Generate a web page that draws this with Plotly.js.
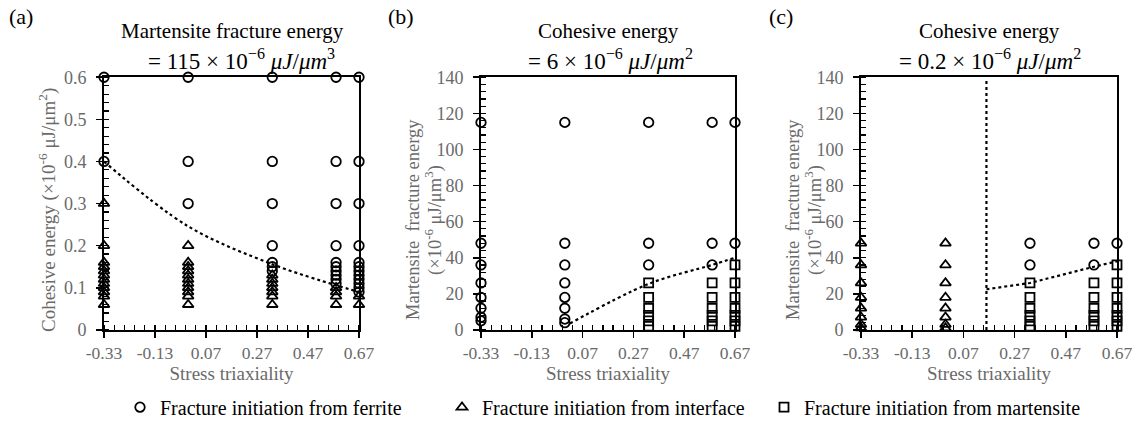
<!DOCTYPE html>
<html>
<head>
<meta charset="utf-8">
<script src="https://cdn.plot.ly/plotly-3.0.1.min.js"></script>
<style>html,body{margin:0;padding:0;background:#fff;}#chart{width:1141px;height:427px;}</style>
</head>
<body>
<div id="chart"></div>
<script>
// ---- data ----
const triaxiality = [-0.33, 0, 0.33, 0.58, 0.67];
const xTickVals = [-0.33, -0.13, 0.07, 0.27, 0.47, 0.67];
const xTickText = ["-0.33", "-0.13", "0.07", "0.27", "0.47", "0.67"];

// Panel (a): cohesive energy (x10^-6 uJ/um^2), per triaxiality column
const aFerrite = [
  [0.6, 0.4],
  [0.6, 0.4, 0.3],
  [0.6, 0.4, 0.3, 0.2, 0.16, 0.15, 0.14],
  [0.6, 0.4, 0.3, 0.2, 0.16, 0.15, 0.14, 0.13, 0.12, 0.11],
  [0.6, 0.4, 0.3, 0.2, 0.16, 0.15, 0.14, 0.13, 0.12, 0.11, 0.1, 0.09]
];
const aInterface = [
  [0.3, 0.2, 0.16, 0.15, 0.14, 0.13, 0.12, 0.11, 0.1, 0.09, 0.08, 0.06],
  [0.2, 0.16, 0.15, 0.14, 0.13, 0.12, 0.11, 0.1, 0.09, 0.08, 0.06],
  [0.13, 0.12, 0.11, 0.1, 0.09, 0.08, 0.06],
  [0.1, 0.09, 0.08, 0.06],
  [0.08, 0.06]
];
const aBoundaryX = [-0.33, 0, 0.33, 0.58, 0.67];
const aBoundaryY = [0.4, 0.246, 0.156, 0.106, 0.09];

// Panel (b): martensite fracture energy (x10^-6 uJ/um^3)
const bFerrite = [
  [115, 48, 36, 26, 18, 12, 7, 5],
  [115, 48, 36, 26, 18, 12, 6, 4],
  [115, 48, 36],
  [115, 48, 36],
  [115, 48]
];
const bMartensite = [
  [],
  [],
  [26, 18, 12, 8, 5, 2],
  [26, 18, 12, 8, 5, 2],
  [36, 26, 18, 12, 8, 5, 2]
];
const bBoundaryX = [0.02, 0.33, 0.58, 0.67];
const bBoundaryY = [3.5, 25.5, 36, 40];

// Panel (c)
const cFerrite = [[], [], [48, 36], [48, 36], [48]];
const cInterface = [
  [48, 36, 26, 18, 12, 7, 3, 1],
  [48, 36, 26, 18, 12, 7, 3, 1],
  [], [], []
];
const cMartensite = [
  [],
  [],
  [26, 18, 12, 8, 5, 2],
  [26, 18, 12, 8, 5, 2],
  [36, 26, 18, 12, 8, 5, 2]
];
const cLimitX = [0.16, 0.16];
const cLimitY = [0, 138];
const cBoundaryX = [0.16, 0.33, 0.58, 0.67];
const cBoundaryY = [22.5, 26, 35, 38];

const legendNames = [
  "Fracture initiation from ferrite",
  "Fracture initiation from interface",
  "Fracture initiation from martensite"
];

// ---- build ----
const FONT = "Liberation Serif, Times New Roman, serif";
const GREY = "#6a6a6a";

function flatten(cols) {
  const x = [], y = [];
  cols.forEach((vals, i) => vals.forEach(v => { x.push(triaxiality[i]); y.push(v); }));
  return {x, y};
}
const symbols = ["circle-open", "triangle-up-open", "square-open"];
const sizes = [9.5, 9.5, 9];
const shown = [false, false, false];
function markerTrace(cols, kind, xa, ya) {
  const d = flatten(cols);
  const show = !shown[kind];
  shown[kind] = true;
  return {
    type: "scatter", mode: "markers", x: d.x, y: d.y, xaxis: xa, yaxis: ya,
    name: legendNames[kind], legendgroup: "g" + kind, showlegend: show,
    cliponaxis: false, hoverinfo: "x+y",
    marker: {symbol: symbols[kind], size: sizes[kind], color: "#000", line: {color: "#000", width: 1.8}}
  };
}
function lineTrace(x, y, xa, ya, shape) {
  return {
    type: "scatter", mode: "lines", x: x, y: y, xaxis: xa, yaxis: ya, showlegend: false,
    cliponaxis: false, hoverinfo: "skip",
    line: {color: "#000", width: 2.2, dash: "dot", shape: shape || "linear", smoothing: 1}
  };
}

const traces = [
  markerTrace(aFerrite, 0, "x", "y"),
  markerTrace(aInterface, 1, "x", "y"),
  lineTrace(aBoundaryX, aBoundaryY, "x", "y", "spline"),
  markerTrace(bFerrite, 0, "x2", "y2"),
  markerTrace(bMartensite, 2, "x2", "y2"),
  lineTrace(bBoundaryX, bBoundaryY, "x2", "y2", "spline"),
  markerTrace(cFerrite, 0, "x3", "y3"),
  markerTrace(cInterface, 1, "x3", "y3"),
  markerTrace(cMartensite, 2, "x3", "y3"),
  lineTrace(cLimitX, cLimitY, "x3", "y3"),
  lineTrace(cBoundaryX, cBoundaryY, "x3", "y3")
];

const W = 1141, H = 427;
const yDom = [(H - 333) / H, (H - 78) / H];
function xAxis(x0, x1, anchor) {
  return {
    domain: [x0 / W, x1 / W], anchor: anchor, range: [-0.33, 0.67],
    tickmode: "array", tickvals: xTickVals, ticktext: xTickText,
    ticks: "outside", ticklen: 6, tickwidth: 1.6, tickcolor: "#000",
    minor: {ticks: "inside", ticklen: 5, tickwidth: 1.2, tickcolor: "#000", dtick: 0.04, tick0: -0.33, showgrid: false},
    showline: true, linecolor: "#000", linewidth: 1.8, mirror: true,
    showgrid: false, zeroline: false,
    tickfont: {family: FONT, size: 17.5, color: GREY},
    title: {text: "Stress triaxiality", font: {family: FONT, size: 19, color: GREY}, standoff: 2}
  };
}
function yAxis(range, dtick, mdtick, anchor) {
  return {
    domain: yDom, anchor: anchor, range: range, dtick: dtick, tick0: 0,
    ticks: "outside", ticklen: 6, tickwidth: 1.6, tickcolor: "#000",
    minor: {ticks: "inside", ticklen: 5, tickwidth: 1.2, tickcolor: "#000", dtick: mdtick, tick0: 0, showgrid: false},
    showline: true, linecolor: "#000", linewidth: 1.8, mirror: true,
    showgrid: false, zeroline: false, ticklabelstandoff: 6,
    tickfont: {family: FONT, size: 18, color: GREY}
  };
}

function ann(text, x, y, size, extra) {
  return Object.assign({text: text, x: x / W, y: 1 - y / H, xref: "paper", yref: "paper",
    showarrow: false, xanchor: "center", yanchor: "middle",
    font: {family: FONT, size: size, color: "#000"}}, extra || {});
}
function yTitle(text, x, y, size) {
  return ann(text, x, y, size, {textangle: -90, font: {family: FONT, size: size, color: GREY}});
}
const eq = (n, p) => "=&nbsp;" + n + "&nbsp;×&nbsp;10<sup>−6</sup>&nbsp;<i>μJ</i>/<i>μm</i><sup>" + p + "</sup>";

const layout = {
  width: W, height: H, margin: {l: 0, r: 0, t: 0, b: 0},
  paper_bgcolor: "#fff", plot_bgcolor: "#fff",
  font: {family: FONT, color: "#000"},
  showlegend: true,
  legend: {orientation: "h", x: 120 / W, xanchor: "left", y: (H - 411) / H, yanchor: "middle",
    font: {family: FONT, size: 20, color: "#000"}, itemsizing: "trace", itemwidth: 30,
    entrywidth: 277, entrywidthmode: "pixels",
    bgcolor: "rgba(0,0,0,0)", tracegroupgap: 0},
  xaxis: xAxis(104, 359, "y"),
  yaxis: yAxis([0, 0.6], 0.1, 0.02, "x"),
  xaxis2: xAxis(481, 735, "y2"),
  yaxis2: yAxis([0, 140], 20, 4, "x2"),
  xaxis3: xAxis(861, 1117, "y3"),
  yaxis3: yAxis([0, 140], 20, 4, "x3"),
  annotations: [
    ann("(a)", 21, 17, 22),
    ann("(b)", 401, 17, 22),
    ann("(c)", 781, 17, 22),
    ann("Martensite fracture energy", 232, 31, 21),
    ann(eq("115", 3), 241, 60, 23),
    ann("Cohesive energy", 608, 31, 21),
    ann(eq("6", 2), 610, 60, 23),
    ann("Cohesive energy", 989, 31, 21),
    ann(eq("0.2", 2), 990, 60, 23),
    yTitle("Cohesive energy (×10<sup>-6</sup> μJ/μm<sup>2</sup>)", 47, 212, 19),
    yTitle("Martensite  fracture energy", 413, 222, 18.5),
    yTitle("(×10<sup>-6</sup> μJ/μm<sup>3</sup>)", 434, 222, 18.5),
    yTitle("Martensite  fracture energy", 793, 222, 18.5),
    yTitle("(×10<sup>-6</sup> μJ/μm<sup>3</sup>)", 814, 222, 18.5)
  ]
};

Plotly.newPlot("chart", traces, layout, {staticPlot: true, displayModeBar: false});
</script>
</body>
</html>
